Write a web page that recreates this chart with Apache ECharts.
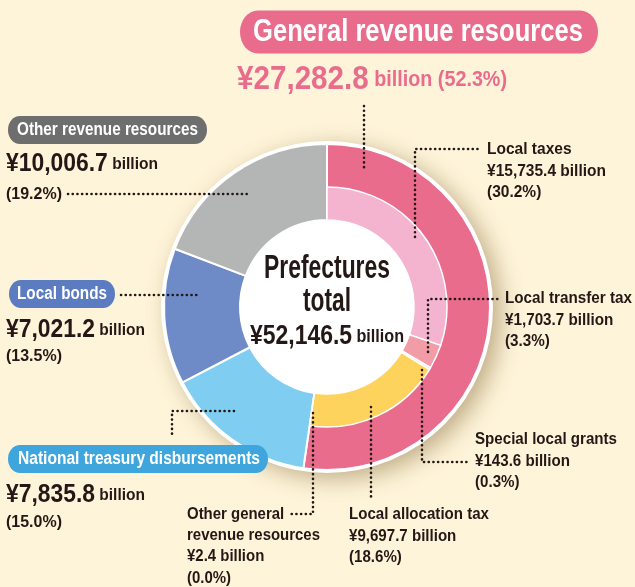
<!DOCTYPE html>
<html>
<head>
<meta charset="utf-8">
<script src="https://cdn.jsdelivr.net/npm/echarts@6/dist/echarts.min.js"></script>
<style>
  html, body { margin: 0; padding: 0; background: #fef4d9; }
  #chart { width: 635px; height: 587px; }
</style>
</head>
<body>
<div id="chart"></div>
<script>
// outer ring: revenue groups, clockwise from 12 o'clock
var outerNames = ['General revenue resources', 'National treasury disbursements', 'Local bonds', 'Other revenue resources'];
var outerValues = [27282.8, 7835.8, 7021.2, 10006.7];
var outerShares = ['52.3%', '15.0%', '13.5%', '19.2%'];
var outerColors = ['#e96c8d', '#7fcdf1', '#6e8bc8', '#b4b5b5'];

// inner ring: breakdown of general revenue resources
var innerNames = ['Local taxes', 'Local transfer tax', 'Special local grants', 'Local allocation tax', 'Other general revenue resources'];
var innerValues = [15735.4, 1703.7, 143.6, 9697.7, 2.4];
var innerShares = ['30.2%', '3.3%', '0.3%', '18.6%', '0.0%'];
var innerColors = ['#f4b4cf', '#f19ca7', '#f6c6d3', '#fdd35d', '#f6c6d3'];

var total = 52146.5;

var FONT = '"Liberation Sans", Arial, sans-serif';
var INK = '#231815';
var CX = 327, CY = 307;

function yen(v) {
    return '¥' + v.toLocaleString('en-US', {minimumFractionDigits: 1, maximumFractionDigits: 1});
}

// the original uses a condensed face; squeeze text horizontally to its width
var mctx = document.createElement('canvas').getContext('2d');
function measure(parts) {
    var s = 0;
    for (var i = 0; i < parts.length; i++) {
        mctx.font = parts[i][1];
        s += mctx.measureText(parts[i][0]).width;
    }
    return s;
}
function bold(size) { return 'bold ' + size + 'px ' + FONT; }

var chart = echarts.init(document.getElementById('chart'));

var outerData = [];
for (var i = 0; i < outerNames.length; i++) {
    outerData.push({value: outerValues[i], name: outerNames[i], itemStyle: {color: outerColors[i]}});
}
var innerData = [];
for (var j = 0; j < innerNames.length; j++) {
    innerData.push({value: innerValues[j], name: innerNames[j], itemStyle: {color: innerColors[j]}});
}
// rest of the circle left empty so the outer ring shows through
var rest = 0;
for (var k = 1; k < outerValues.length; k++) rest += outerValues[k];
innerData.push({value: rest, name: '', itemStyle: {color: 'rgba(0,0,0,0)', borderWidth: 0}, emphasis: {disabled: true}});

function pill(text, x, y, bg, size, textW, padL, padR, padV) {
    var s = textW / measure([[text, bold(size)]]);
    return {
        type: 'text', x: x, y: y, z: 10, scaleX: s,
        style: {
            text: text, font: bold(size), fill: '#fff',
            backgroundColor: bg, borderRadius: [20 / s, 20 / s, 20 / s, 20 / s],
            padding: [padV, padR / s, padV, padL / s],
            verticalAlign: 'middle'
        }
    };
}
function amount(v, tail, x, y, big, small, width, color) {
    var a = yen(v), b = ' ' + tail;
    var s = width / measure([[a, bold(big)], [b, bold(small)]]);
    return {
        type: 'text', x: x, y: y, z: 10, scaleX: s,
        style: {
            text: '{a|' + a + '}{b|' + b + '}',
            verticalAlign: 'middle',
            rich: {
                a: {font: bold(big), fill: color || INK},
                b: {font: bold(small), fill: color || INK}
            }
        }
    };
}
function txt(lines, x, y, size, refLine, refW, align) {
    var s = refW / measure([[lines[refLine], bold(size)]]);
    return {
        type: 'text', x: x, y: y, z: 10, scaleX: s,
        style: {text: lines.join('\n'), font: bold(size), fill: INK, verticalAlign: 'middle', align: align || 'left', lineHeight: 21.3}
    };
}
function dots(points) {
    return {
        type: 'polyline', z: 12,
        shape: {points: points},
        style: {stroke: INK, lineWidth: 2.6, lineDash: [0.1, 4.6], lineCap: 'round', fill: null}
    };
}

var option = {
    backgroundColor: '#fef4d9',
    animation: false,
    graphic: [
        // white disc behind the rings, with the soft drop shadow
        {
            type: 'circle', z: 0, shape: {cx: CX, cy: CY, r: 166},
            style: {fill: '#fff', shadowBlur: 22, shadowOffsetX: 8, shadowOffsetY: 6, shadowColor: 'rgba(120,90,40,0.45)'}
        },
        pill(outerNames[0], 240, 32, '#e96c8d', 31, 330, 13, 15, 6),
        amount(outerValues[0], 'billion (' + outerShares[0] + ')', 237, 80, 33, 22, 270, '#e96c8d'),

        pill(outerNames[3], 8, 130, '#6e6e6e', 18, 181, 9, 9, 5),
        amount(outerValues[3], 'billion', 6, 164, 25, 17, 152),
        txt(['(' + outerShares[3] + ')'], 6, 194, 17, 0, 56),

        pill(outerNames[2], 9, 294, '#5c7cc1', 18, 90, 8, 8, 5),
        amount(outerValues[2], 'billion', 6, 330, 25, 17, 139),
        txt(['(' + outerShares[2] + ')'], 6, 356, 17, 0, 56),

        pill(outerNames[1], 8, 459, '#3ea6dc', 18, 242, 10, 8, 5),
        amount(outerValues[1], 'billion', 6, 495, 25, 17, 139),
        txt(['(' + outerShares[1] + ')'], 6, 522, 17, 0, 56),

        txt([innerNames[0], yen(innerValues[0]) + ' billion', '(' + innerShares[0] + ')'], 487, 171, 17, 1, 119),
        txt([innerNames[1], yen(innerValues[1]) + ' billion', '(' + innerShares[1] + ')'], 505, 320, 17, 0, 127),
        txt([innerNames[2], yen(innerValues[2]) + ' billion', '(' + innerShares[2] + ')'], 475, 461, 17, 0, 142),
        txt([innerNames[3], yen(innerValues[3]) + ' billion', '(' + innerShares[3] + ')'], 349, 536, 17, 0, 140),
        txt(['Other general', 'revenue resources', yen(innerValues[4]) + ' billion', '(' + innerShares[4] + ')'], 187, 546, 17, 1, 133),

        // centre caption
        txt(['Prefectures'], CX, 269, 33, 0, 126, 'center'),
        txt(['total'], CX, 302, 33, 0, 48, 'center'),
        {
            type: 'text', x: CX, y: 337, z: 10,
            scaleX: 154 / measure([[yen(total), bold(27)], [' billion', bold(19)]]),
            style: {
                text: '{a|' + yen(total) + '}{b| billion}',
                align: 'center', verticalAlign: 'middle',
                rich: {
                    a: {font: bold(27), fill: INK},
                    b: {font: bold(19), fill: INK}
                }
            }
        },

        // leader lines
        dots([[364, 106], [364, 171]]),
        dots([[68, 194], [249, 194]]),
        dots([[121, 295], [199, 295]]),
        dots([[234, 411], [172, 411], [172, 438]]),
        dots([[313, 413], [313, 514], [291, 514]]),
        dots([[415, 237], [415, 149], [479, 149]]),
        dots([[428, 352], [428, 299], [499, 299]]),
        dots([[422, 370], [422, 462], [470, 462]]),
        dots([[371, 407], [371, 499]])
    ],
    series: [
        {
            name: 'Revenue',
            type: 'pie',
            center: [CX, CY],
            radius: [87, 163],
            startAngle: 90,
            clockwise: true,
            z: 2,
            label: {show: false},
            labelLine: {show: false},
            itemStyle: {borderColor: '#fff', borderWidth: 2},
            data: outerData
        },
        {
            name: 'General revenue',
            type: 'pie',
            center: [CX, CY],
            radius: [87, 120],
            startAngle: 90,
            clockwise: true,
            z: 3,
            label: {show: false},
            labelLine: {show: false},
            itemStyle: {borderColor: '#fff', borderWidth: 1.5},
            data: innerData
        }
    ]
};

chart.setOption(option);
</script>
</body>
</html>
